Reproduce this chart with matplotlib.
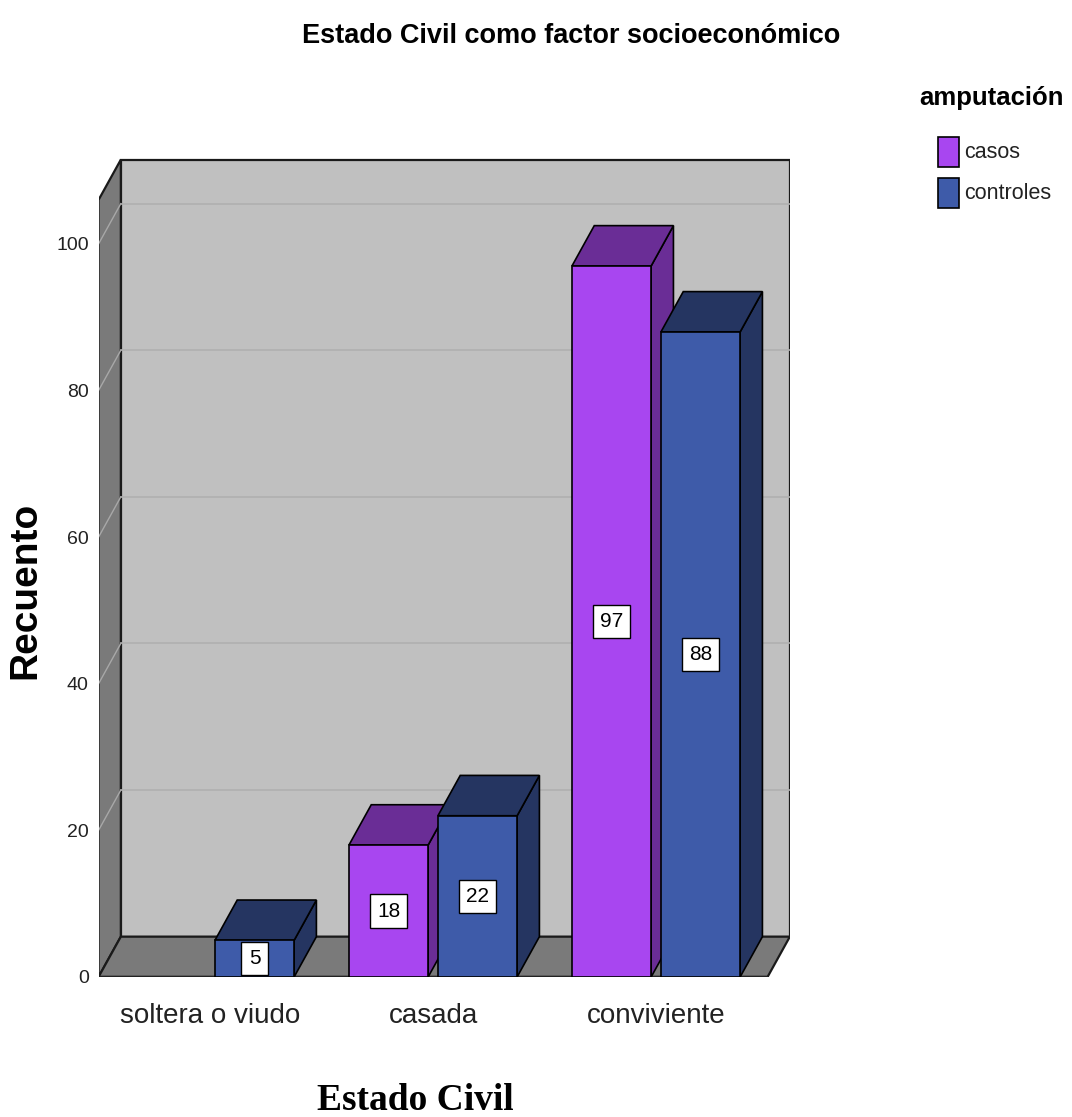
import matplotlib.pyplot as plt
from matplotlib.patches import Polygon, Rectangle

# Recuento por estado civil y grupo
categorias = ['soltera o viudo', 'casada', 'conviviente']
series = ['casos', 'controles']
casos = [0, 18, 97]
controles = [5, 22, 88]
valores = {'casos': casos, 'controles': controles}
yticks = [0, 20, 40, 60, 80, 100]

frente = {'casos': '#A846F0', 'controles': '#3E5BA9'}
sombra = {'casos': '#6A2D96', 'controles': '#253561'}

sans = ['Liberation Sans', 'DejaVu Sans']

# profundidad oblicua del efecto 3D, en unidades de datos
dx, dy = 0.1, 5.5
ancho = 0.355
paso = 0.399
ymax = 106
x0, x1 = -0.5, 2.5

fig = plt.figure(figsize=(10.72, 11.17), dpi=100)
ax = fig.add_axes([0.0919, 0.12534, 0.6449, 0.735])
ax.set_xlim(x0, x1 + dx)
ax.set_ylim(0, 112)
ax.patch.set_visible(False)
for s in ax.spines.values():
    s.set_visible(False)

# paredes y suelo
ax.add_patch(Rectangle((x0 + dx, dy), x1 - x0, ymax, fc='#C0C0C0', ec='#1a1a1a', lw=1.6, zorder=1))
ax.add_patch(Polygon([(x0, 0), (x0 + dx, dy), (x0 + dx, ymax + dy), (x0, ymax)],
                     fc='#7A7A7A', ec='#1a1a1a', lw=1.6, zorder=1))
ax.add_patch(Polygon([(x0, 0), (x1, 0), (x1 + dx, dy), (x0 + dx, dy)],
                     fc='#7A7A7A', ec='#1a1a1a', lw=1.6, zorder=1))
for v in yticks[1:]:
    ax.plot([x0 + dx, x1 + dx], [v + dy, v + dy], color='#B0B0B0', lw=1.2, zorder=2)
    ax.plot([x0, x0 + dx], [v, v + dy], color='#A8A8A8', lw=1.0, zorder=2)
ax.plot([x0, x1], [0, 0], color='#222222', lw=2.5, zorder=2, solid_capstyle='butt')

# barras 3D
z = 3
for i, cat in enumerate(categorias):
    for j, s in enumerate(series):
        h = valores[s][i]
        if h == 0:
            continue
        left = i - 0.377 + j * paso
        right = left + ancho
        ax.add_patch(Polygon([(right, 0), (right + dx, dy), (right + dx, h + dy), (right, h)],
                             fc=sombra[s], ec='black', lw=1.2, zorder=z))
        ax.add_patch(Polygon([(left, h), (right, h), (right + dx, h + dy), (left + dx, h + dy)],
                             fc=sombra[s], ec='black', lw=1.2, zorder=z))
        ax.bar(left, h, width=ancho, align='edge', color=frente[s], edgecolor='black',
               lw=1.2, zorder=z + 1)
        ax.text(left + ancho / 2, h / 2, str(h), ha='center', va='center', fontsize=15,
                family=sans, zorder=z + 2,
                bbox=dict(boxstyle='square,pad=0.35', fc='white', ec='black', lw=1.0))
        z += 3

ax.set_yticks(yticks)
ax.set_yticklabels([str(v) for v in yticks], family=sans, fontsize=14, color='#222222')
ax.set_xticks(range(len(categorias)))
ax.set_xticklabels(categorias, family=sans, fontsize=20, color='#222222')
ax.tick_params(axis='y', length=0, pad=7)
ax.tick_params(axis='x', length=0, pad=19)

fig.text(571 / 1072, 1 - 36 / 1117, 'Estado Civil como factor socioeconómico', ha='center',
         va='center', fontsize=19.5, fontweight='bold', family=sans)
fig.text(25 / 1072, 1 - 590 / 1117, 'Recuento', rotation=90, ha='center', va='center',
         fontsize=28, fontweight='bold', family=sans)
fig.text(415 / 1072, 1 - 1101 / 1117, 'Estado Civil', ha='center', va='center',
         fontsize=27, fontweight='bold', family=['Liberation Serif', 'DejaVu Serif'])

# leyenda
fig.text(992 / 1072, 1 - 98 / 1117, 'amputación', ha='center', va='center',
         fontsize=18.5, fontweight='bold', family=sans)
for k, s in enumerate(series):
    yc = 152 + k * 41
    fig.patches.append(Rectangle((938 / 1072, 1 - (yc + 15) / 1117), 21 / 1072, 30 / 1117,
                                 transform=fig.transFigure, fc=frente[s], ec='black', lw=1.2))
    fig.text(964 / 1072, 1 - yc / 1117, s, ha='left', va='center', fontsize=15.5,
             family=sans, color='#222222')

fig.savefig('out.png', dpi=100, facecolor='white')
